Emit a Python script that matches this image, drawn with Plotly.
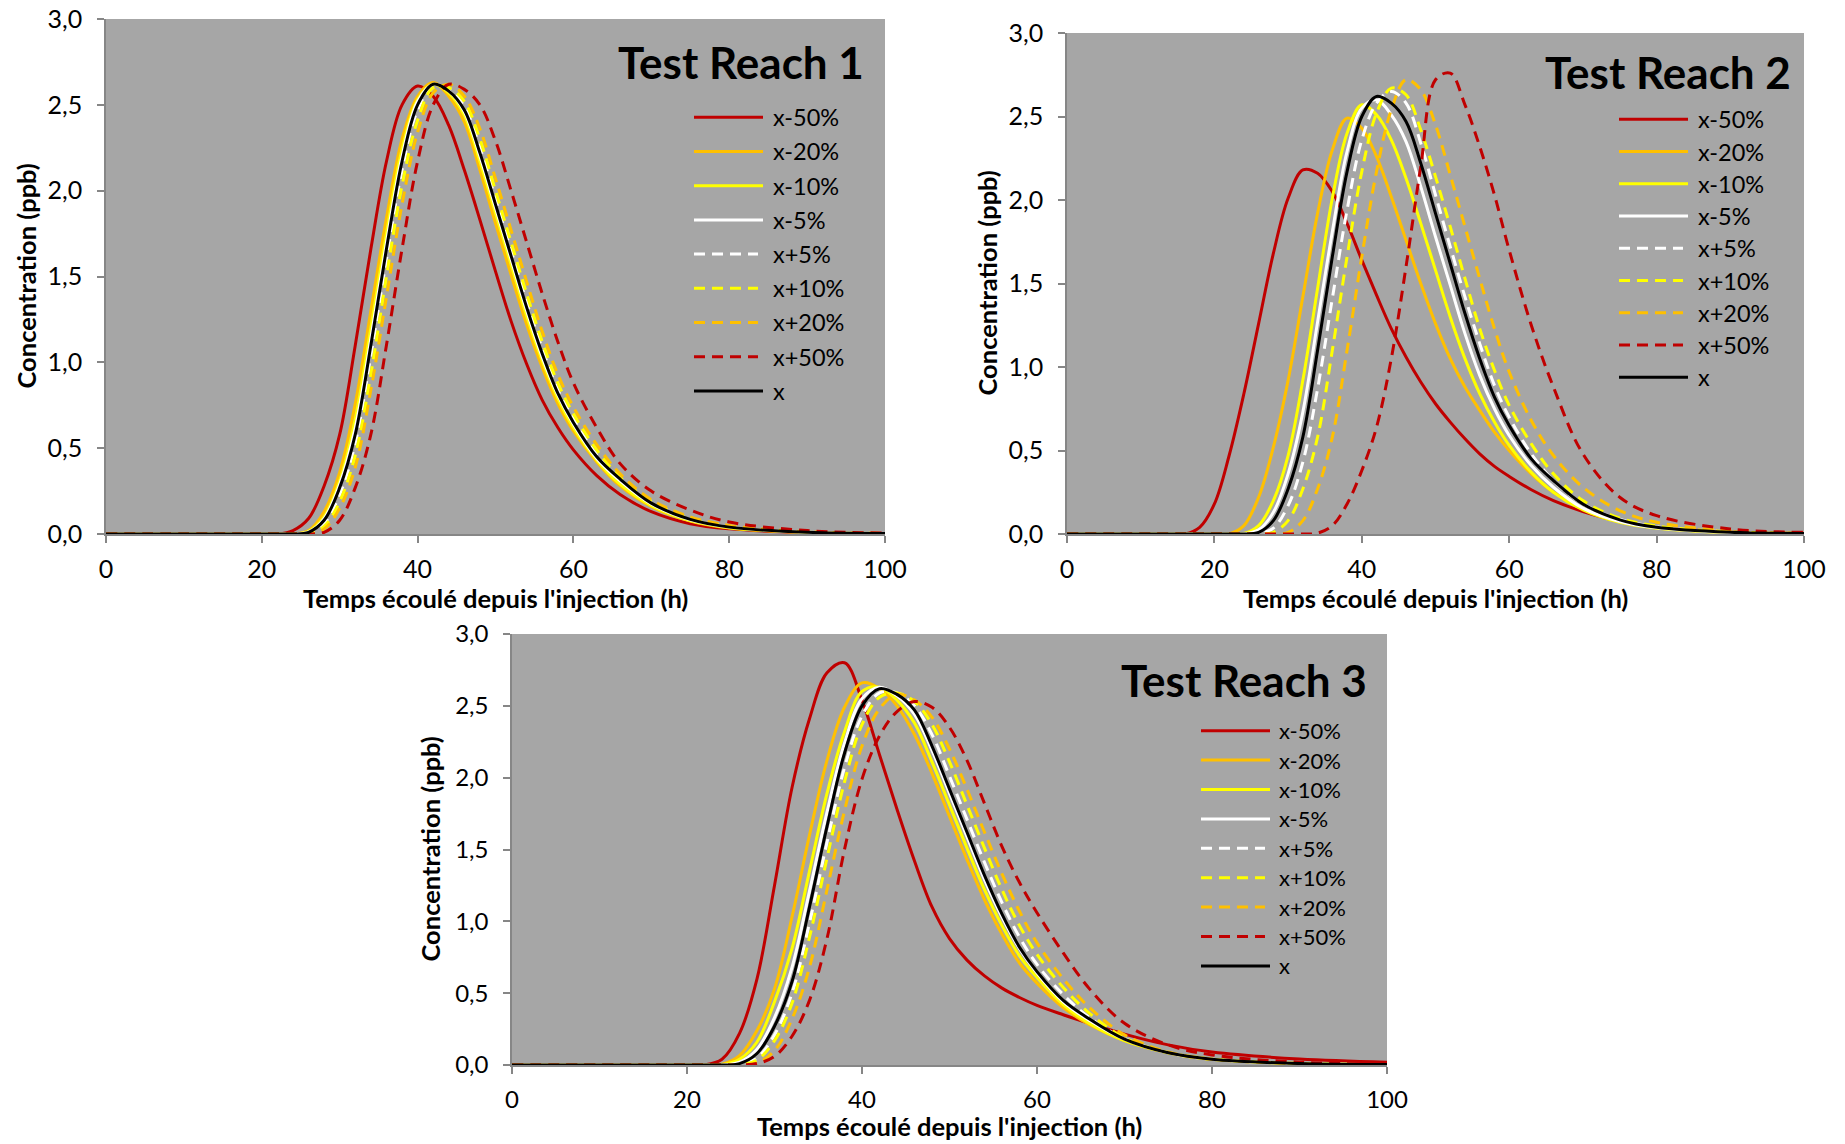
import plotly.graph_objects as go

W, H = 1845, 1144

# ---------------- data ----------------
T = [0, 16, 18, 20, 22, 24, 26, 28, 30, 32, 34, 36, 38, 40, 42, 44, 46, 48, 50, 52,
     54, 56, 58, 60, 63, 66, 70, 75, 80, 90, 100]

SERIES = ["x-50%", "x-20%", "x-10%", "x-5%", "x+5%", "x+10%", "x+20%", "x+50%", "x"]

X_TICKS = [0, 20, 40, 60, 80, 100]
X_TICKTEXT = ["0", "20", "40", "60", "80", "100"]
Y_TICKS = [0, 0.5, 1.0, 1.5, 2.0, 2.5, 3.0]
Y_TICKTEXT = ["0,0", "0,5", "1,0", "1,5", "2,0", "2,5", "3,0"]

TITLES = ["Test Reach 1", "Test Reach 2", "Test Reach 3"]
X_TITLE = "Temps écoulé depuis l'injection (h)"
Y_TITLE = "Concentration (ppb)"

# Test Reach 1
R1_M50 = [0, 0, 0, 0, 0, 0.02, 0.09, 0.28, 0.58, 1.10, 1.66, 2.17, 2.50, 2.61, 2.55, 2.38, 2.12, 1.83, 1.53, 1.24,
          0.99, 0.78, 0.62, 0.49, 0.34, 0.23, 0.13, 0.06, 0.03, 0.008, 0.002]
R1_M20 = [0, 0, 0, 0, 0, 0, 0.02, 0.13, 0.36, 0.76, 1.30, 1.84, 2.30, 2.55, 2.63, 2.55, 2.40, 2.12, 1.81, 1.51,
          1.22, 0.97, 0.76, 0.60, 0.42, 0.28, 0.16, 0.075, 0.035, 0.009, 0.002]
R1_M10 = [0, 0, 0, 0, 0, 0, 0.015, 0.10, 0.31, 0.67, 1.20, 1.75, 2.24, 2.53, 2.62, 2.57, 2.44, 2.17, 1.87, 1.57,
          1.27, 1.01, 0.79, 0.62, 0.43, 0.29, 0.165, 0.078, 0.037, 0.01, 0.003]
R1_M5 = [0, 0, 0, 0, 0, 0, 0.012, 0.09, 0.29, 0.62, 1.14, 1.70, 2.20, 2.52, 2.62, 2.58, 2.46, 2.20, 1.90, 1.60,
         1.30, 1.03, 0.81, 0.64, 0.44, 0.31, 0.175, 0.082, 0.04, 0.01, 0.003]
R1_P5 = [0, 0, 0, 0, 0, 0, 0.005, 0.06, 0.23, 0.53, 1.04, 1.60, 2.12, 2.47, 2.61, 2.59, 2.49, 2.25, 1.95, 1.65,
         1.35, 1.08, 0.84, 0.67, 0.46, 0.32, 0.185, 0.087, 0.042, 0.011, 0.003]
R1_P10 = [0, 0, 0, 0, 0, 0, 0.002, 0.045, 0.19, 0.46, 0.93, 1.50, 2.03, 2.41, 2.60, 2.60, 2.52, 2.30, 2.00, 1.70,
          1.40, 1.12, 0.88, 0.70, 0.49, 0.33, 0.19, 0.09, 0.045, 0.012, 0.003]
R1_P20 = [0, 0, 0, 0, 0, 0, 0, 0.03, 0.15, 0.39, 0.84, 1.38, 1.92, 2.34, 2.57, 2.62, 2.55, 2.36, 2.07, 1.77,
          1.47, 1.18, 0.93, 0.74, 0.52, 0.35, 0.20, 0.10, 0.05, 0.013, 0.004]
R1_P50 = [0, 0, 0, 0, 0, 0, 0, 0.01, 0.08, 0.27, 0.58, 1.10, 1.66, 2.17, 2.50, 2.62, 2.59, 2.50, 2.29, 2.00,
          1.70, 1.40, 1.12, 0.88, 0.62, 0.41, 0.25, 0.14, 0.07, 0.02, 0.006]
R1_X = [0, 0, 0, 0, 0, 0, 0.01, 0.08, 0.27, 0.58, 1.10, 1.66, 2.17, 2.50, 2.62, 2.58, 2.47, 2.22, 1.92, 1.62,
        1.32, 1.05, 0.82, 0.65, 0.45, 0.32, 0.18, 0.085, 0.04, 0.01, 0.003]

# Test Reach 2
R2_M50 = [0, 0, 0.04, 0.18, 0.47, 0.84, 1.26, 1.68, 2.01, 2.18, 2.16, 2.05, 1.86, 1.64, 1.43, 1.23, 1.06, 0.91, 0.78, 0.67,
          0.57, 0.48, 0.405, 0.345, 0.265, 0.20, 0.135, 0.075, 0.04, 0.012, 0.004]
R2_M20 = [0, 0, 0, 0, 0, 0.05, 0.22, 0.52, 0.92, 1.42, 1.92, 2.30, 2.49, 2.43, 2.26, 2.02, 1.76, 1.50, 1.26, 1.05,
          0.88, 0.74, 0.61, 0.50, 0.36, 0.25, 0.15, 0.075, 0.038, 0.01, 0.003]
R2_M10 = [0, 0, 0, 0, 0, 0.003, 0.05, 0.20, 0.47, 0.92, 1.47, 2.01, 2.40, 2.57, 2.51, 2.36, 2.13, 1.86, 1.58, 1.30,
          1.05, 0.84, 0.67, 0.53, 0.37, 0.25, 0.145, 0.07, 0.035, 0.009, 0.003]
R2_M5 = [0, 0, 0, 0, 0, 0.001, 0.025, 0.13, 0.36, 0.73, 1.27, 1.81, 2.29, 2.55, 2.60, 2.51, 2.35, 2.08, 1.78, 1.49,
         1.20, 0.95, 0.75, 0.59, 0.41, 0.28, 0.155, 0.075, 0.037, 0.009, 0.003]
R2_P5 = [0, 0, 0, 0, 0, 0, 0.002, 0.035, 0.17, 0.43, 0.87, 1.41, 1.94, 2.36, 2.58, 2.65, 2.58, 2.34, 2.03, 1.72,
         1.42, 1.14, 0.89, 0.70, 0.48, 0.32, 0.18, 0.088, 0.044, 0.012, 0.004]
R2_P10 = [0, 0, 0, 0, 0, 0, 0, 0.01, 0.08, 0.27, 0.58, 1.10, 1.66, 2.17, 2.52, 2.67, 2.63, 2.42, 2.14, 1.84,
          1.53, 1.23, 0.98, 0.77, 0.54, 0.36, 0.20, 0.095, 0.048, 0.013, 0.004]
R2_P20 = [0, 0, 0, 0, 0, 0, 0, 0, 0.01, 0.08, 0.27, 0.58, 1.10, 1.66, 2.17, 2.54, 2.72, 2.66, 2.45, 2.15,
          1.84, 1.53, 1.23, 0.97, 0.68, 0.47, 0.28, 0.14, 0.07, 0.018, 0.005]
R2_P50 = [0, 0, 0, 0, 0, 0, 0, 0, 0, 0, 0.005, 0.05, 0.18, 0.38, 0.64, 1.05, 1.60, 2.20, 2.72, 2.76,
          2.57, 2.32, 2.03, 1.70, 1.25, 0.88, 0.48, 0.22, 0.11, 0.03, 0.01]
R2_X = [0, 0, 0, 0, 0, 0, 0.01, 0.08, 0.27, 0.58, 1.10, 1.66, 2.17, 2.50, 2.62, 2.58, 2.47, 2.22, 1.92, 1.62,
        1.32, 1.05, 0.82, 0.65, 0.45, 0.32, 0.18, 0.085, 0.04, 0.01, 0.003]

# Test Reach 3
R3_M50 = [0, 0, 0, 0, 0, 0.04, 0.22, 0.60, 1.25, 1.93, 2.41, 2.73, 2.80, 2.54, 2.16, 1.78, 1.42, 1.10, 0.88, 0.73,
          0.62, 0.535, 0.47, 0.415, 0.35, 0.29, 0.215, 0.14, 0.09, 0.042, 0.02]
R3_M20 = [0, 0, 0, 0, 0, 0.005, 0.065, 0.24, 0.53, 1.03, 1.60, 2.12, 2.49, 2.66, 2.62, 2.50, 2.30, 2.03, 1.73, 1.43,
          1.15, 0.91, 0.71, 0.57, 0.40, 0.28, 0.17, 0.085, 0.04, 0.01, 0.003]
R3_M10 = [0, 0, 0, 0, 0, 0.002, 0.04, 0.16, 0.44, 0.81, 1.35, 1.89, 2.32, 2.60, 2.63, 2.54, 2.38, 2.11, 1.81, 1.51,
          1.22, 0.97, 0.76, 0.61, 0.42, 0.29, 0.17, 0.085, 0.04, 0.01, 0.003]
R3_M5 = [0, 0, 0, 0, 0, 0, 0.02, 0.11, 0.33, 0.68, 1.21, 1.76, 2.24, 2.55, 2.63, 2.57, 2.44, 2.19, 1.89, 1.59,
         1.29, 1.03, 0.81, 0.64, 0.44, 0.31, 0.18, 0.085, 0.04, 0.01, 0.003]
R3_P5 = [0, 0, 0, 0, 0, 0, 0.004, 0.05, 0.21, 0.50, 0.99, 1.55, 2.07, 2.43, 2.59, 2.59, 2.50, 2.30, 2.01, 1.71,
         1.41, 1.13, 0.89, 0.70, 0.49, 0.33, 0.185, 0.085, 0.04, 0.01, 0.003]
R3_P10 = [0, 0, 0, 0, 0, 0, 0.002, 0.035, 0.17, 0.43, 0.89, 1.44, 1.97, 2.37, 2.56, 2.59, 2.53, 2.37, 2.11, 1.81,
          1.51, 1.22, 0.97, 0.77, 0.54, 0.36, 0.19, 0.085, 0.04, 0.01, 0.003]
R3_P20 = [0, 0, 0, 0, 0, 0, 0, 0.015, 0.10, 0.32, 0.68, 1.22, 1.77, 2.22, 2.48, 2.58, 2.54, 2.42, 2.20, 1.92,
          1.62, 1.33, 1.07, 0.85, 0.60, 0.40, 0.21, 0.09, 0.04, 0.01, 0.003]
R3_P50 = [0, 0, 0, 0, 0, 0, 0, 0.01, 0.06, 0.20, 0.45, 0.88, 1.50, 1.99, 2.29, 2.46, 2.53, 2.49, 2.35, 2.12,
          1.82, 1.52, 1.27, 1.06, 0.78, 0.53, 0.29, 0.14, 0.07, 0.02, 0.006]
R3_X = [0, 0, 0, 0, 0, 0, 0.01, 0.08, 0.27, 0.58, 1.10, 1.66, 2.17, 2.50, 2.62, 2.58, 2.47, 2.22, 1.92, 1.62,
        1.32, 1.05, 0.82, 0.65, 0.45, 0.32, 0.18, 0.085, 0.04, 0.01, 0.003]

CHART_DATA = [
    [R1_M50, R1_M20, R1_M10, R1_M5, R1_P5, R1_P10, R1_P20, R1_P50, R1_X],
    [R2_M50, R2_M20, R2_M10, R2_M5, R2_P5, R2_P10, R2_P20, R2_P50, R2_X],
    [R3_M50, R3_M20, R3_M10, R3_M5, R3_P5, R3_P10, R3_P20, R3_P50, R3_X],
]

# ---------------- styles ----------------
COLORS = ["#C00000", "#FFC000", "#FFFF00", "#FFFFFF", "#FFFFFF", "#FFFF00", "#FFC000", "#C00000", "#000000"]
DASHED = [False, False, False, False, True, True, True, True, False]
DASH = "11px,7px"
LINE_W = 3
BG = "#A6A6A6"
AXIS_C = "#868686"
FONT = "Lato, 'Open Sans', sans-serif"

# plot areas in pixels: (left, top, right, bottom)
AREAS = [(106, 19, 885, 534), (1067, 33, 1804, 534), (512, 634, 1387, 1065)]
# legend geometry in pixels: line x0, x1 (solid), x1 (dashed), text x, first row y, row step, font size
LEGENDS = [(694, 763, 758, 771, 117.3, 34.2, 23.5),
           (1619, 1688, 1683, 1696, 119.3, 32.25, 23.5),
           (1201, 1270, 1265, 1277, 730.7, 29.4, 22)]
# chart title: right x, center y
TITLE_POS = [(866, 62), (1793, 72), (1369, 680)]
XTITLE_Y = [598, 598, 1126]
YTITLE_X = [26, 986, 429]
TICK_SIZE = [25, 25, 24]


def px(x):
    return x / W


def py(y):
    return 1 - y / H


fig = go.Figure()
layout = dict(width=W, height=H, margin=dict(l=0, r=0, t=0, b=0),
              paper_bgcolor="white", plot_bgcolor=BG, showlegend=False,
              font=dict(family=FONT, color="black"))
shapes, annotations = [], []

for k in range(3):
    suffix = "" if k == 0 else str(k + 1)
    xa, ya = "x" + suffix, "y" + suffix
    for i, name in enumerate(SERIES):
        fig.add_trace(go.Scatter(
            x=T, y=CHART_DATA[k][i], mode="lines", name=name,
            xaxis=xa, yaxis=ya, hoverinfo="skip",
            line=dict(color=COLORS[i], width=LINE_W, shape="spline", smoothing=1.0,
                      dash=DASH if DASHED[i] else "solid")))
    L, Tp, R, B = AREAS[k]
    layout["xaxis" + suffix] = dict(
        domain=[px(L), px(R)], anchor=ya, range=[0, 100], tickvals=X_TICKS, ticktext=X_TICKTEXT,
        ticks="outside", ticklen=7, tickwidth=1.5, tickcolor=AXIS_C, showline=True, linecolor=AXIS_C,
        linewidth=1.5, showgrid=False, zeroline=False, automargin=False, ticklabelstandoff=5,
        tickfont=dict(family=FONT, size=TICK_SIZE[k], color="black"), fixedrange=True)
    layout["yaxis" + suffix] = dict(
        domain=[py(B), py(Tp)], anchor=xa, range=[0, 3], tickvals=Y_TICKS, ticktext=Y_TICKTEXT,
        ticks="outside", ticklen=7, tickwidth=1.5, tickcolor=AXIS_C, showline=True, linecolor=AXIS_C,
        linewidth=1.5, showgrid=False, zeroline=False, automargin=False, ticklabelstandoff=10,
        tickfont=dict(family=FONT, size=TICK_SIZE[k], color="black"), fixedrange=True)

    # chart title
    tx, ty = TITLE_POS[k]
    annotations.append(dict(text="<b>" + TITLES[k] + "</b>", x=px(tx), y=py(ty), xref="paper", yref="paper",
                            xanchor="right", yanchor="middle", showarrow=False,
                            font=dict(family=FONT, size=44, color="black")))
    # axis titles
    annotations.append(dict(text="<b>" + X_TITLE + "</b>", x=px((L + R) / 2), y=py(XTITLE_Y[k]),
                            xref="paper", yref="paper", xanchor="center", yanchor="middle", showarrow=False,
                            font=dict(family=FONT, size=25.5, color="black")))
    annotations.append(dict(text="<b>" + Y_TITLE + "</b>", x=px(YTITLE_X[k]), y=py((Tp + B) / 2),
                            xref="paper", yref="paper", xanchor="center", yanchor="middle", showarrow=False,
                            textangle=-90, font=dict(family=FONT, size=25.5, color="black")))
    # legend
    lx0, lx1, lx1d, ltx, ly0, lstep, lfs = LEGENDS[k]
    for i, name in enumerate(SERIES):
        yy = ly0 + i * lstep
        shapes.append(dict(type="line", xref="paper", yref="paper",
                           x0=px(lx0), x1=px(lx1d if DASHED[i] else lx1), y0=py(yy), y1=py(yy),
                           line=dict(color=COLORS[i], width=LINE_W, dash=DASH if DASHED[i] else "solid")))
        annotations.append(dict(text=name, x=px(ltx), y=py(yy), xref="paper", yref="paper",
                                xanchor="left", yanchor="middle", showarrow=False,
                                font=dict(family=FONT, size=lfs, color="black")))

layout["shapes"] = shapes
layout["annotations"] = annotations
fig.update_layout(**layout)

fig.write_html("out.html", post_script="document.body.style.margin='0';document.body.style.overflow='hidden';",
               config={"displayModeBar": False})
